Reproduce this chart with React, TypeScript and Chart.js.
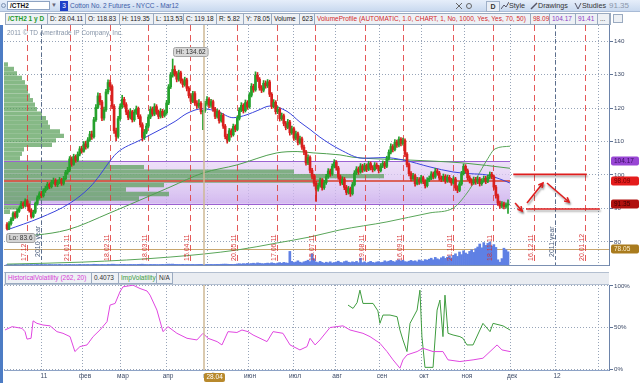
import React, { useEffect, useRef } from "react";
import { Chart, registerables } from "chart.js";
Chart.register(...registerables);

// ---------------- DATA (daily bars, x = trading-day index) ----------------
const firstOpen = 85.2;
const closes = [
  84.0, 85.5, 86.8, 88.5, 87.6, 89.2, 90.2, 91.5, 90.8, 92.3,
  91.0, 89.4, 87.6, 88.9, 91.5, 93.2, 94.4, 93.8, 95.3, 96.0,
  97.2, 96.5, 97.8, 98.4, 97.1, 97.9, 98.6, 97.5, 98.9, 100.8,
  101.5, 104.8, 103.2, 105.5, 104.4, 106.2, 107.8, 107.1, 109.3, 108.4,
  110.5, 112.2, 111.4, 116.5, 120.2, 123.6, 121.8, 117.0, 119.5, 124.8,
  127.6, 126.4, 120.5, 113.2, 111.5, 116.8, 120.4, 122.6, 121.0, 118.8,
  117.2, 118.9, 116.5, 118.7, 119.8, 117.4, 115.0, 111.2, 112.8, 114.6,
  117.3, 119.6, 118.2, 120.4, 118.8, 117.5, 119.0, 117.8, 118.6, 121.5,
  126.3, 129.8, 131.5, 130.2, 128.6, 130.5, 128.1, 127.0, 128.4, 125.9,
  123.7, 122.0, 124.3, 121.5, 120.6, 121.4, 118.9, 119.18, 121.3, 122.6,
  120.8, 121.9, 119.7, 117.5, 118.9, 116.2, 117.8, 114.6, 111.5, 110.4,
  113.2, 112.0, 114.5, 113.6, 116.9, 119.4, 120.8, 119.2, 121.6, 120.3,
  123.8, 126.5, 125.4, 129.8, 128.6, 126.0, 125.3, 127.4, 126.6, 127.8,
  124.1, 120.5, 121.7, 118.9, 119.6, 116.8, 117.7, 115.4, 114.2, 115.8,
  112.6, 113.8, 111.0, 112.3, 109.7, 110.8, 108.3, 106.9, 103.6, 105.2,
  101.4, 99.6, 97.5, 95.8, 96.9, 98.4, 96.2, 97.7, 99.5, 101.2,
  100.3, 102.6, 103.8, 102.1, 99.4, 97.6, 98.8, 96.3, 94.8, 95.9,
  94.4, 97.1, 100.6, 101.8, 100.9, 102.7, 101.5, 102.8, 101.7, 103.4,
  102.2, 101.6, 103.0, 102.4, 101.3, 102.7, 103.5, 102.6, 104.9, 106.8,
  108.5, 107.6, 109.8, 108.9, 110.7, 109.4, 110.3, 106.2, 103.1, 100.4,
  98.9, 99.8, 97.4, 98.6, 97.9, 99.2, 98.1, 96.8, 98.5, 99.0,
  100.3, 99.4, 101.2, 100.6, 99.1, 98.7, 99.6, 98.2, 99.3, 98.5,
  97.6, 98.8, 96.1, 95.4, 97.3, 100.4, 102.6, 101.3, 99.2, 98.3,
  97.6, 98.7, 97.9, 98.8, 97.4, 98.2, 99.0, 98.1, 99.3, 100.2,
  99.5, 96.4, 93.8, 91.6, 90.7, 91.4, 90.6, 91.0, 91.35,
];
const highs = [
  85.8, 86.1, 87.3, 89.0, 89.1, 89.8, 90.9, 92.1, 92.0, 92.9,
  92.7, 91.4, 89.9, 89.5, 92.0, 93.8, 95.0, 95.1, 95.9, 96.7,
  97.8, 97.7, 98.4, 99.1, 98.9, 98.5, 99.3, 99.0, 99.6, 101.4,
  102.3, 105.5, 105.4, 106.2, 106.0, 106.9, 108.5, 108.6, 110.0, 110.1,
  111.2, 113.0, 113.1, 117.2, 121.0, 124.5, 124.4, 122.3, 120.3, 125.6,
  128.4, 128.3, 126.9, 121.0, 114.0, 117.5, 121.2, 123.8, 123.2, 121.6,
  119.4, 119.8, 119.3, 119.5, 120.6, 120.3, 118.0, 115.6, 113.6, 115.4,
  118.0, 120.4, 120.3, 121.3, 121.0, 119.4, 119.8, 119.6, 119.4, 122.3,
  127.0, 130.6, 134.62, 132.6, 130.9, 131.3, 131.0, 128.7, 129.2, 128.9,
  126.4, 124.3, 125.0, 124.9, 122.2, 122.5, 121.9, 119.35, 122.0, 123.4,
  123.1, 122.6, 122.4, 120.2, 119.7, 119.4, 118.5, 118.3, 115.1, 112.2,
  113.9, 113.8, 115.2, 115.0, 117.6, 120.1, 121.6, 121.3, 122.4, 122.2,
  124.6, 127.3, 127.1, 130.8, 130.6, 129.1, 126.7, 128.2, 128.1, 128.5,
  128.3, 124.6, 122.5, 122.2, 120.4, 120.1, 118.5, 118.2, 116.0, 116.6,
  116.3, 114.6, 114.3, 113.1, 112.8, 111.6, 111.3, 108.9, 107.4, 106.0,
  105.7, 102.0, 100.2, 98.1, 97.6, 99.1, 98.9, 98.4, 100.2, 101.9,
  101.8, 103.3, 104.6, 104.3, 102.6, 100.0, 99.5, 99.3, 96.9, 96.6,
  96.4, 97.8, 101.3, 102.5, 102.4, 103.4, 103.2, 103.5, 103.3, 104.1,
  103.9, 102.8, 103.7, 103.6, 102.9, 103.4, 104.2, 104.0, 105.6, 107.5,
  109.3, 109.1, 110.6, 110.4, 111.4, 111.2, 111.0, 110.8, 106.7, 103.6,
  101.0, 100.5, 100.3, 99.3, 99.2, 99.9, 99.7, 98.6, 99.2, 99.7,
  101.0, 100.9, 102.0, 101.8, 101.1, 99.7, 100.3, 100.1, 100.0, 99.9,
  99.0, 99.5, 99.3, 96.8, 98.0, 101.1, 103.3, 103.1, 101.8, 99.8,
  98.9, 99.4, 99.3, 99.5, 99.3, 98.9, 99.7, 99.6, 100.0, 100.9,
  100.8, 100.0, 96.9, 94.3, 92.2, 92.1, 91.9, 91.7, 92.6,
];
const lows = [
  83.6, 83.7, 85.0, 86.4, 87.0, 87.2, 88.8, 89.9, 90.1, 90.4,
  90.5, 88.9, 87.1, 87.2, 88.5, 91.0, 92.8, 93.2, 93.4, 94.8,
  95.6, 95.9, 96.1, 97.3, 96.6, 96.5, 97.4, 96.9, 97.0, 98.5,
  100.2, 101.0, 102.6, 102.9, 103.8, 104.0, 105.7, 106.5, 106.8, 107.7,
  108.0, 110.0, 110.6, 111.0, 116.0, 119.8, 120.9, 116.2, 116.4, 119.0,
  124.2, 125.5, 119.8, 112.4, 110.2, 111.0, 116.3, 119.9, 120.2, 118.0,
  116.5, 116.7, 115.8, 116.0, 118.1, 116.8, 114.3, 110.2, 110.6, 112.3,
  114.1, 116.8, 117.6, 117.7, 118.1, 116.8, 117.0, 117.1, 117.3, 118.1,
  121.0, 125.8, 129.2, 129.5, 127.8, 128.0, 127.4, 126.2, 126.5, 125.1,
  123.0, 121.2, 121.6, 120.8, 119.9, 120.0, 118.2, 113.53, 118.7, 120.8,
  120.1, 120.2, 119.0, 116.8, 117.0, 115.5, 115.8, 113.9, 110.8, 109.5,
  110.0, 111.3, 111.6, 112.9, 113.2, 116.4, 118.9, 118.5, 118.8, 119.6,
  119.9, 123.3, 124.7, 125.0, 127.9, 125.3, 124.6, 124.8, 125.9, 126.1,
  123.4, 119.8, 120.0, 118.2, 118.3, 116.1, 116.3, 114.7, 113.5, 113.8,
  111.9, 112.1, 110.3, 110.5, 109.0, 109.2, 107.6, 106.1, 102.9, 103.1,
  100.6, 98.8, 96.7, 92.1, 95.2, 96.4, 95.5, 95.7, 97.2, 99.0,
  99.6, 99.9, 102.1, 101.4, 98.7, 96.9, 97.1, 95.6, 94.1, 94.3,
  93.6, 94.0, 96.7, 100.1, 100.2, 100.5, 100.8, 101.1, 101.0, 101.3,
  101.5, 100.9, 101.2, 101.8, 100.6, 100.9, 102.2, 101.9, 102.2, 104.4,
  106.3, 106.9, 107.2, 108.2, 108.4, 108.7, 108.9, 105.5, 102.4, 99.7,
  98.2, 98.4, 96.7, 97.0, 97.2, 97.5, 97.4, 96.1, 96.4, 98.0,
  98.6, 98.8, 99.0, 99.9, 98.4, 98.0, 98.2, 97.5, 97.8, 97.8,
  96.9, 97.2, 95.4, 94.7, 95.0, 96.9, 100.0, 100.6, 98.5, 97.6,
  96.9, 97.2, 97.2, 97.4, 96.7, 96.9, 97.8, 97.4, 97.7, 98.8,
  98.8, 95.7, 93.1, 90.9, 90.0, 90.2, 89.9, 90.1, 88.5,
];
const volumes = [
  210, 180, 260, 150, 300, 220, 170, 240, 310, 190, 260, 200, 280, 170, 230, 320, 190, 250, 210, 270,
  180, 300, 240, 200, 260, 190, 330, 220, 170, 280, 240, 310, 200, 260, 190, 230, 350, 210, 280, 240,
  300, 220, 260, 380, 340, 290, 250, 310, 270, 230, 360, 300, 420, 380, 260, 240, 300, 280, 330, 250,
  270, 310, 260, 290, 240, 330, 360, 410, 300, 280, 250, 320, 270, 300, 260, 240, 290, 330, 280, 390,
  440, 400, 460, 350, 320, 300, 280, 340, 260, 310, 290, 270, 300, 250, 280, 310, 330, 290, 260, 300,
  280, 320, 270, 300, 340, 310, 380, 420, 460, 400, 350, 330, 300, 360,
  520, 640, 480, 700, 560, 820, 610, 750, 900, 680, 1050, 880, 720, 640, 800, 950, 760, 1100, 870, 690,
  980, 1200, 850, 1300, 1050, 920,
  6800,
  1800, 1200, 1500, 2100, 1400, 1100, 1600, 1900, 2400, 1700,
  5600, 3100,
  1500, 1200, 1800, 1300, 900, 1400, 1100, 1600, 1000, 1250, 1500, 1900, 1300, 1100, 1700, 2000, 1400,
  1200, 1600, 1350, 1800, 1150,
  3400,
  1200, 1600, 1000, 1400, 1800, 1300, 1100, 1500, 1700, 1250, 1400, 2100, 1600, 1900, 2300, 1800, 1500,
  2200, 2600, 2000, 2400, 1700, 1500, 1900, 2300, 1800, 2100, 1600, 2500, 2200, 1900, 2700, 2400,
  2900, 3400, 2600, 3800, 3100, 2700, 3600, 4200, 3300, 3900, 4600, 3500,
  4800, 5600, 4300, 6500, 5200, 7100, 6000, 5400, 6800, 7600, 6300, 8200,
  9000, 10500, 8600, 11200, 9800, 10800, 11500, 9400,
  10200, 8800,
  2600, 1400, 3200,
  8400, 7600, 6600,
];

// Moving averages (sampled along the trading-day index)
const blueIdx = [0, 16.3, 31.2, 41.1, 46, 49.5, 54.4, 65.8, 75.7, 83.2, 89.1, 97, 104.4, 111.9, 118.8, 124.2, 130.2, 138.6, 145, 150, 154.9, 164.8, 176.2, 187.1, 196, 209.4, 220.8, 229.2, 237.6, 244, 249];
const blueVals = [83.6, 87.2, 91.6, 96.4, 100.0, 103.0, 106.6, 110.4, 113.5, 116.0, 118.4, 119.8, 118.9, 117.1, 118.0, 119.3, 120.6, 119.0, 115.8, 113.6, 111.3, 107.6, 105.0, 105.2, 104.5, 102.4, 100.9, 100.4, 100.0, 98.8, 97.6];
const green1Idx = [0, 29.7, 51, 65.8, 80.7, 97, 113.8, 133.6, 143.6, 151.5, 164.8, 171.3, 198, 225.7, 249];
const green1Vals = [81.2, 83.6, 88.7, 92.5, 96.4, 100.6, 103.0, 106.6, 107.0, 106.6, 106.0, 105.3, 104.5, 103.6, 102.0];
const green2Idx = [0, 37.6, 80.7, 113.8, 133.6, 150, 164.8, 188.1, 209.4, 220.8, 227.7, 232.7, 237.6, 241.6, 249];
const green2Vals = [73.4, 74.0, 75.5, 77.6, 79.7, 81.5, 83.6, 86.0, 88.7, 90.1, 94.6, 99.4, 104.5, 107.8, 108.6];

// Volume profile
const vpPrices = [136, 134.5, 133, 131.5, 130, 128.5, 127, 125.5, 124, 122.5, 121, 119.5, 118, 116.5, 115, 113.5, 112, 110.5, 109, 107.5, 106, 104.5, 103, 101.5, 100, 98.5, 97, 95.5, 94, 92.5, 91, 89.5, 88, 86.5];
const vpVolumes = [4, 10, 13, 18, 21, 23, 24, 26, 29, 31, 33, 38, 42, 44, 46, 56, 60, 52, 48, 20, 18, 16, 106, 140, 290, 380, 320, 160, 122, 165, 135, 27, 14, 6];
const vaHigh = 104.17;
const vaLow = 91.41;
const pocPrice = 98.09;
const lastPrice = 91.35;
const volRef = 78.05;
const profileEndIdx = 249;

// Axes
const priceTicks = [80, 90, 100, 110, 120, 130, 140];
const pctTicks = [0, 50, 100];
const monthTicks = [17.3, 37.6, 56.4, 78.7, 99.0, 119.3, 141.6, 162.4, 184.6, 205.4, 226.7, 249.0, 271.3, 292.6];
const monthLabels = ["11", "фев", "мар", "апр", "май", "июн", "июл", "авг", "сен", "окт", "ноя", "дек", "12", ""];
const expiryIdx = [9.9, 31.2, 51.0, 69.8, 90.6, 113.8, 133.6, 152.5, 177.2, 196.0, 220.8, 240.6, 260.9, 286.1];
const expiryLabels = ["17.12.10", "21.01.11", "18.02.11", "18.03.11", "15.04.11", "20.05.11", "17.06.11", "15.07.11", "19.08.11", "16.09.11", "21.10.11", "18.11.11", "16.12.11", "20.01.12"];
const yearIdx = [17.0, 271.3];
const yearLabels = ["2010 year", "2011 year"];
const cursorIdx = 97.5;
const cursorLabel = "28.04";
const hiIdx = 82;
const loIdx = 0;

// Drawings (trading-day index, price)
const drawSegs = [
  [250.6, 100.2, 287.0, 100.2, 0],
  [256.9, 89.85, 293.5, 89.85, 0],
  [251.5, 91.64, 255.0, 89.25, 1],
  [257.4, 91.64, 265.3, 97.61, 1],
  [267.3, 97.61, 278.2, 91.94, 1],
];

// Volatility study
const hvIdx = [-1, 2.5, 7.4, 8.9, 9.9, 11.9, 12.9, 14.8, 17.8, 21.3, 24.7, 27.7, 31.2, 33.6, 36.1, 39.6, 42.6, 46, 49.5, 51, 53.5, 55.9, 57.4, 62.4, 65.8, 69.3, 70.8, 74.2, 77.2, 79.7, 84.1, 89.1, 94, 97, 99.5, 104, 106.4, 109.4, 113.8, 116.3, 119.3, 121.8, 128.7, 131.7, 136.6, 140.1, 145, 148.5, 150, 152.5, 154.9, 159.9, 166.3, 169.8, 176.2, 179.7, 184.6, 188.1, 191.1, 194.5, 196, 198, 203, 205.9, 210.9, 215.8, 218.3, 224.2, 230.7, 235.6, 239.1, 242.6, 245, 249];
const hvVals = [47, 51, 49, 45, 36, 37, 58, 55, 53, 52, 45, 43, 39, 21, 27, 29, 39, 47, 57, 77, 79, 93, 99, 101, 97, 94, 89, 71, 45, 51, 43, 37, 35, 43, 37, 33, 29, 45, 44, 47, 45, 41, 33, 45, 43, 29, 23, 27, 37, 29, 35, 50, 52, 47, 43, 39, 31, 21, 11, 1, 11, 17, 21, 25, 21, 21, 11, 9, 11, 13, 21, 29, 23, 21];
const ivIdx = [168.8, 171.3, 173.3, 174.7, 176.2, 181.2, 183.6, 184.6, 186.1, 189.6, 193.1, 194.5, 196, 198, 199.5, 203, 204.4, 205.4, 206.9, 210.9, 212.9, 214.3, 215.8, 216.8, 218.3, 220.8, 224.2, 225.7, 227.7, 230.7, 235.6, 239.1, 240.6, 245.5, 249];
const ivVals = [77, 73, 80, 95, 79, 79, 70, 55, 65, 65, 63, 47, 35, 21, 55, 71, 95, 39, 2, 2, 71, 83, 39, 89, 43, 41, 39, 37, 29, 29, 55, 45, 55, 52, 47];

// ---------------- helpers ----------------
const FONT = '"Liberation Sans", Arial, Helvetica, sans-serif';
const f = (s: number, b = false) => `${b ? "bold " : ""}${s}px ${FONT}`;

function rrect(ctx: any, x: number, y: number, w: number, h: number, r: number) {
  ctx.beginPath();
  ctx.moveTo(x + r, y);
  ctx.arcTo(x + w, y, x + w, y + h, r);
  ctx.arcTo(x + w, y + h, x, y + h, r);
  ctx.arcTo(x, y + h, x, y, r);
  ctx.arcTo(x, y, x + w, y, r);
  ctx.closePath();
}
function hline(ctx: any, x1: number, x2: number, y: number, color: string, w: number) {
  const yy = w % 2 === 1 ? Math.round(y) + 0.5 : Math.round(y);
  ctx.save();
  ctx.strokeStyle = color;
  ctx.lineWidth = w;
  ctx.beginPath();
  ctx.moveTo(x1, yy);
  ctx.lineTo(x2, yy);
  ctx.stroke();
  ctx.restore();
}

const mainDeco = {
  id: "mainDeco",
  beforeDatasetsDraw(chart: any) {
    const { ctx, chartArea: a, scales } = chart;
    const xr = scales.x.getPixelForValue(profileEndIdx);
    const yt = scales.y.getPixelForValue(vaHigh);
    const yb = scales.y.getPixelForValue(vaLow);
    ctx.save();
    const g = ctx.createLinearGradient(0, yt, 0, yb);
    g.addColorStop(0, "rgba(232,214,246,0.75)");
    g.addColorStop(0.6, "rgba(214,190,240,0.75)");
    g.addColorStop(1, "rgba(200,168,236,0.8)");
    ctx.fillStyle = g;
    ctx.fillRect(a.left, yt, xr - a.left, yb - yt);
    ctx.restore();
  },
  afterDatasetDraw(chart: any, args: any) {
    if (args.index !== 0) return;
    const { ctx, chartArea: a, scales } = chart;
    const xs = scales.x, ys = scales.y;
    const xr = xs.getPixelForValue(profileEndIdx);
    hline(ctx, a.left, a.right, ys.getPixelForValue(volRef), "#c9a76f", 1);
    hline(ctx, a.left, xr, ys.getPixelForValue(vaHigh), "#9b62d2", 1);
    hline(ctx, a.left, xr, ys.getPixelForValue(vaLow), "#9b62d2", 1);
    hline(ctx, a.left, xr, ys.getPixelForValue(pocPrice), "rgba(218,88,74,0.9)", 2);
    ctx.save();
    ctx.lineWidth = 1;
    ctx.setLineDash([6, 4]);
    ctx.strokeStyle = "rgba(224,60,60,0.85)";
    expiryIdx.forEach((v) => {
      const x = Math.round(xs.getPixelForValue(v)) + 0.5;
      ctx.beginPath();
      ctx.moveTo(x, a.top);
      ctx.lineTo(x, a.bottom);
      ctx.stroke();
    });
    ctx.setLineDash([4, 3]);
    ctx.strokeStyle = "#5b6e8c";
    yearIdx.forEach((v) => {
      const x = Math.round(xs.getPixelForValue(v)) + 0.5;
      ctx.beginPath();
      ctx.moveTo(x, a.top);
      ctx.lineTo(x, a.bottom);
      ctx.stroke();
    });
    ctx.restore();
  },
  afterDatasetsDraw(chart: any) {
    const { ctx, chartArea: a, scales } = chart;
    const xs = scales.x, ys = scales.y;
    ctx.save();
    // rotated expiry labels
    ctx.font = f(7);
    ctx.textAlign = "left";
    ctx.textBaseline = "bottom";
    expiryIdx.forEach((v, k) => {
      const x = xs.getPixelForValue(v);
      ctx.save();
      ctx.translate(x + 0.5, a.bottom - 4);
      ctx.rotate(-Math.PI / 2);
      ctx.fillStyle = "rgba(214,48,48,0.92)";
      ctx.fillText(expiryLabels[k], 0, 0);
      ctx.restore();
    });
    yearIdx.forEach((v, k) => {
      const x = xs.getPixelForValue(v);
      ctx.save();
      ctx.translate(x + 0.5, a.bottom - 8);
      ctx.rotate(-Math.PI / 2);
      ctx.fillStyle = "#4a5d7c";
      ctx.fillText(yearLabels[k], 0, 0);
      ctx.restore();
    });
    // cursor line
    const cx = xs.getPixelForValue(cursorIdx);
    ctx.strokeStyle = "rgba(206,184,150,0.75)";
    ctx.lineWidth = 2;
    ctx.beginPath();
    ctx.moveTo(cx, a.top);
    ctx.lineTo(cx, a.bottom);
    ctx.stroke();
    // Hi / Lo boxes
    ctx.font = f(6.5);
    ctx.textBaseline = "middle";
    const hiTxt = "Hi: " + highs[hiIdx].toFixed(2);
    const hx = xs.getPixelForValue(hiIdx);
    const hy = ys.getPixelForValue(highs[hiIdx]);
    let w = ctx.measureText(hiTxt).width + 5;
    rrect(ctx, Math.round(hx) + 0.5, Math.round(hy - 12) + 0.5, w, 9, 2);
    ctx.fillStyle = "#d9d9d9";
    ctx.fill();
    ctx.strokeStyle = "#a5a5a5";
    ctx.lineWidth = 1;
    ctx.stroke();
    ctx.fillStyle = "#333";
    ctx.fillText(hiTxt, Math.round(hx) + 3, Math.round(hy - 12) + 5);
    const loTxt = "Lo: " + lows[loIdx].toFixed(1);
    const lx = xs.getPixelForValue(loIdx) - 1;
    const ly = ys.getPixelForValue(lows[loIdx]) + 3;
    w = ctx.measureText(loTxt).width + 5;
    rrect(ctx, Math.round(lx) + 0.5, Math.round(ly) + 0.5, w, 9, 2);
    ctx.fillStyle = "#d4d4d4";
    ctx.fill();
    ctx.strokeStyle = "#a0a0a0";
    ctx.stroke();
    ctx.fillStyle = "#333";
    ctx.fillText(loTxt, Math.round(lx) + 3, Math.round(ly) + 5);
    // drawings
    ctx.strokeStyle = "#e01e1e";
    ctx.lineWidth = 1.6;
    ctx.shadowColor = "rgba(0,0,0,0.35)";
    ctx.shadowBlur = 2;
    ctx.shadowOffsetX = 1;
    ctx.shadowOffsetY = 2;
    drawSegs.forEach((s) => {
      const x1 = xs.getPixelForValue(s[0]), y1 = ys.getPixelForValue(s[1]);
      const x2 = xs.getPixelForValue(s[2]), y2 = ys.getPixelForValue(s[3]);
      ctx.beginPath();
      ctx.moveTo(x1, y1);
      ctx.lineTo(x2, y2);
      ctx.stroke();
      if (s[4]) {
        const ang = Math.atan2(y2 - y1, x2 - x1);
        const L = 5;
        ctx.beginPath();
        ctx.moveTo(x2 - L * Math.cos(ang - 0.5), y2 - L * Math.sin(ang - 0.5));
        ctx.lineTo(x2, y2);
        ctx.lineTo(x2 - L * Math.cos(ang + 0.5), y2 - L * Math.sin(ang + 0.5));
        ctx.stroke();
      }
    });
    ctx.shadowColor = "transparent";
    // copyright
    ctx.font = f(6.5);
    ctx.fillStyle = "#8795a8";
    ctx.textBaseline = "middle";
    ctx.fillText("2011 © TD Ameritrade IP Company, Inc.", a.left + 3, a.top + 8);
    ctx.restore();
  },
  afterDraw(chart: any) {
    const { ctx, chartArea: a, scales } = chart;
    const ys = scales.y;
    ctx.save();
    ctx.font = f(6.2);
    ctx.fillStyle = "#3d4b68";
    ctx.textAlign = "left";
    ctx.textBaseline = "middle";
    priceTicks.forEach((v) => ctx.fillText(String(v), a.right + 5, ys.getPixelForValue(v)));
    const boxes = [
      [vaHigh, "#9846d4", "#3a0e62"],
      [pocPrice, "#e41c1c", "#6a0000"],
      [lastPrice, "#b0100e", "#3c0000"],
      [volRef, "#a97b1e", "#fff2d2"],
    ];
    ctx.font = f(6.5);
    boxes.forEach((b: any) => {
      const y = ys.getPixelForValue(b[0]);
      rrect(ctx, a.right + 2, Math.round(y) - 4.5, 28, 9, 2);
      ctx.fillStyle = b[1];
      ctx.fill();
      ctx.fillStyle = b[2];
      ctx.fillText(b[0].toFixed(2), a.right + 5, Math.round(y));
    });
    ctx.restore();
  },
};

const lowerDeco = {
  id: "lowerDeco",
  afterDatasetsDraw(chart: any) {
    const { ctx, chartArea: a, scales } = chart;
    const cx = scales.x.getPixelForValue(cursorIdx);
    ctx.save();
    ctx.strokeStyle = "rgba(206,184,150,0.75)";
    ctx.lineWidth = 2;
    ctx.beginPath();
    ctx.moveTo(cx, a.top - 1);
    ctx.lineTo(cx, a.bottom);
    ctx.stroke();
    ctx.restore();
  },
  afterDraw(chart: any) {
    const { ctx, chartArea: a, scales } = chart;
    const xs = scales.x, ys = scales.y;
    ctx.save();
    ctx.font = f(6.5);
    ctx.fillStyle = "#3d4b68";
    ctx.textAlign = "center";
    ctx.textBaseline = "middle";
    monthTicks.forEach((v, k) => {
      if (!monthLabels[k]) return;
      ctx.fillText(monthLabels[k], xs.getPixelForValue(v) + 2, a.bottom + 6.5);
    });
    ctx.textAlign = "left";
    ctx.font = f(6.2);
    pctTicks.forEach((v) => ctx.fillText(v + "%", a.right + 5, ys.getPixelForValue(v)));
    const cx = xs.getPixelForValue(cursorIdx);
    ctx.font = f(6.5);
    rrect(ctx, Math.round(cx), a.bottom + 3, 21, 9, 2);
    ctx.fillStyle = "#b8892c";
    ctx.fill();
    ctx.fillStyle = "#fff";
    ctx.fillText(cursorLabel, Math.round(cx) + 2.5, a.bottom + 7.5);
    ctx.restore();
  },
};

const GRID = "#97a4b8";

function MainChart() {
  const ref = useRef<HTMLCanvasElement>(null);
  useEffect(() => {
    const opens = closes.map((c, k) => (k === 0 ? firstOpen : closes[k - 1]));
    const colors = closes.map((c, k) => (c >= opens[k] ? "#25a12c" : "#d9201e"));
    const chart = new Chart(ref.current as HTMLCanvasElement, {
      type: "bar",
      data: {
        datasets: [
          {
            type: "bar",
            label: "VolumeProfile",
            indexAxis: "y",
            xAxisID: "xVP",
            yAxisID: "yVP",
            data: vpPrices.map((p, k) => ({ x: vpVolumes[k], y: p })),
            backgroundColor: "rgba(88,158,88,0.72)",
            grouped: false,
            barPercentage: 0.97,
            categoryPercentage: 1,
            order: 10,
          } as any,
          {
            type: "bar",
            label: "Volume",
            xAxisID: "x",
            yAxisID: "yVol",
            data: volumes.map((v, k) => ({ x: k, y: v })),
            backgroundColor: "#5f80e4",
            grouped: false,
            barPercentage: 1,
            categoryPercentage: 1,
            maxBarThickness: 2,
            order: 9,
          },
          {
            type: "line",
            label: "MA slow",
            xAxisID: "x",
            yAxisID: "y",
            data: green2Idx.map((v, k) => ({ x: v, y: green2Vals[k] })),
            borderColor: "#5aa65a",
            borderWidth: 1,
            pointRadius: 0,
            cubicInterpolationMode: "monotone",
            order: 8,
          },
          {
            type: "line",
            label: "MA mid",
            xAxisID: "x",
            yAxisID: "y",
            data: green1Idx.map((v, k) => ({ x: v, y: green1Vals[k] })),
            borderColor: "#4f9f4f",
            borderWidth: 1,
            pointRadius: 0,
            cubicInterpolationMode: "monotone",
            order: 7,
          },
          {
            type: "line",
            label: "MA fast",
            xAxisID: "x",
            yAxisID: "y",
            data: blueIdx.map((v, k) => ({ x: v, y: blueVals[k] })),
            borderColor: "#3a44dc",
            borderWidth: 1,
            pointRadius: 0,
            cubicInterpolationMode: "monotone",
            order: 6,
          },
          {
            type: "bar",
            label: "wick",
            xAxisID: "x",
            yAxisID: "y",
            data: closes.map((c, k) => ({ x: k, y: [lows[k], highs[k]] })),
            backgroundColor: colors,
            grouped: false,
            barPercentage: 1,
            categoryPercentage: 1,
            maxBarThickness: 1,
            order: 2,
          } as any,
          {
            type: "bar",
            label: "body",
            xAxisID: "x",
            yAxisID: "y",
            data: closes.map((c, k) => ({ x: k, y: [opens[k], c] })),
            backgroundColor: colors,
            grouped: false,
            barPercentage: 1,
            categoryPercentage: 1,
            maxBarThickness: 2,
            order: 1,
          } as any,
        ],
      },
      options: {
        responsive: false,
        animation: false,
        events: [],
        layout: { padding: { left: 4, right: 0, top: 0, bottom: 1 } },
        plugins: { legend: { display: false }, tooltip: { enabled: false } },
        scales: {
          x: {
            type: "linear",
            min: -1.5,
            max: 298,
            offset: false,
            afterBuildTicks: (s: any) => {
              s.ticks = monthTicks.map((v) => ({ value: v }));
            },
            ticks: { display: false },
            grid: { offset: false, drawTicks: false, color: GRID, lineWidth: 1 },
            border: { display: true, color: "#7b90b2", dash: [1, 2] },
          },
          y: {
            type: "linear",
            position: "right",
            min: 73.13,
            max: 144.78,
            afterBuildTicks: (s: any) => {
              s.ticks = priceTicks.map((v) => ({ value: v }));
            },
            afterFit: (s: any) => {
              s.width = 31;
            },
            ticks: { display: false },
            grid: { drawTicks: true, tickLength: 4, color: GRID, tickColor: "#5e7396", tickBorderDash: [] },
            border: { display: true, color: "#6d84aa", dash: [1, 2] },
          },
          yVol: { type: "linear", display: false, min: 0, max: 120000 },
          yVP: { type: "linear", display: false, min: 73.13, max: 144.78 },
          xVP: { type: "linear", axis: "x", display: false, min: 0, max: 605, offset: false },
        } as any,
      },
      plugins: [mainDeco],
    } as any);
    return () => chart.destroy();
  }, []);
  return (
    <canvas
      ref={ref}
      width={640}
      height={241}
      style={{ position: "absolute", left: 0, top: 25, width: 640, height: 241 }}
    />
  );
}

function LowerChart() {
  const ref = useRef<HTMLCanvasElement>(null);
  useEffect(() => {
    const chart = new Chart(ref.current as HTMLCanvasElement, {
      type: "line",
      data: {
        datasets: [
          {
            label: "HistoricalVolatility",
            data: hvIdx.map((v, k) => ({ x: v, y: hvVals[k] })),
            borderColor: "#e046e0",
            borderWidth: 1,
            pointRadius: 0,
            tension: 0,
          },
          {
            label: "ImpVolatility",
            data: ivIdx.map((v, k) => ({ x: v, y: ivVals[k] })),
            borderColor: "#3f9c3f",
            borderWidth: 1,
            pointRadius: 0,
            tension: 0,
          },
        ],
      },
      options: {
        responsive: false,
        animation: false,
        events: [],
        layout: { padding: { left: 4, right: 0, top: 10, bottom: 13 } },
        plugins: { legend: { display: false }, tooltip: { enabled: false } },
        scales: {
          x: {
            type: "linear",
            min: -1.5,
            max: 298,
            afterBuildTicks: (s: any) => {
              s.ticks = monthTicks.map((v) => ({ value: v }));
            },
            ticks: { display: false },
            grid: { drawTicks: false, color: GRID },
            border: { display: true, color: "#8ea3c6", dash: [1, 2] },
          },
          y: {
            type: "linear",
            position: "right",
            min: -1.2,
            max: 101.2,
            afterBuildTicks: (s: any) => {
              s.ticks = pctTicks.map((v) => ({ value: v }));
            },
            afterFit: (s: any) => {
              s.width = 31;
            },
            ticks: { display: false },
            grid: { drawTicks: true, tickLength: 4, color: GRID, tickColor: "#5e7396", tickBorderDash: [] },
            border: { display: true, color: "#6d84aa", dash: [1, 2] },
          },
        } as any,
      },
      plugins: [lowerDeco],
    } as any);
    return () => chart.destroy();
  }, []);
  return (
    <canvas
      ref={ref}
      width={640}
      height={108}
      style={{ position: "absolute", left: 0, top: 275, width: 640, height: 108 }}
    />
  );
}

const headerItems: [string, number, string, boolean][] = [
  ["/CTH2 1 y D", 42, "#1f9a2a", true],
  ["D: 28.04.11", 38, "#222", false],
  ["O: 118.83", 34, "#222", false],
  ["H: 119.35", 34, "#222", false],
  ["L: 113.53", 30, "#222", false],
  ["C: 119.18", 33, "#222", false],
  ["R: 5.82", 27, "#222", false],
  ["Y: 78.05", 28, "#222", false],
  ["Volume", 28, "#222", false],
  ["623", 15, "#222", false],
  ["VolumeProfile (AUTOMATIC, 1.0, CHART, 1, No, 1000, Yes, Yes, 70, 50)", 216, "#d42a2a", false],
  ["98.09", 19, "#d42a2a", false],
  ["104.17", 26, "#8a3cc4", false],
  ["91.41", 22, "#8a3cc4", false],
  ["...", 12, "#333", false],
];
const studyItems: [string, number, string][] = [
  ["HistoricalVolatility (262, 20)", 86, "#d63cd6"],
  ["0.4073", 27, "#333"],
  ["ImpVolatility", 38, "#3a9a3a"],
  ["N/A", 16, "#333"],
];

function Strip({ items, left, top, width }: any) {
  return (
    <div
      style={{
        position: "absolute",
        left,
        top,
        width,
        height: 12,
        boxSizing: "border-box",
        border: "1px solid #9aaac0",
        background: "#eef1f5",
        display: "flex",
      }}
    >
      {items.map((it: any, k: number) => (
        <div
          key={k}
          style={{
            width: it[1],
            flex: "none",
            boxSizing: "border-box",
            borderRight: "1px solid #9aaac0",
            color: it[2],
            fontWeight: it[3] ? "bold" : "normal",
            fontSize: 6.5,
            lineHeight: "10px",
            paddingLeft: 2,
            whiteSpace: "nowrap",
            overflow: "hidden",
          }}
        >
          {it[0]}
        </div>
      ))}
    </div>
  );
}

function Icon({ left, children }: any) {
  return (
    <svg width={8} height={8} style={{ position: "absolute", left, top: 2 }} viewBox="0 0 8 8">
      {children}
    </svg>
  );
}

export default function App() {
  return (
    <div
      style={{
        position: "fixed",
        left: 0,
        top: 0,
        width: 640,
        height: 383,
        background: "#fff",
        overflow: "hidden",
        fontFamily: FONT,
      }}
    >
      {/* toolbar row */}
      <div
        style={{
          position: "absolute",
          left: 0,
          top: 0,
          width: 640,
          height: 12,
          background: "linear-gradient(#e6eefa,#c9d9ef)",
          borderBottom: "1px solid #a9bbd6",
          boxSizing: "border-box",
        }}
      >
        <div style={{ position: "absolute", left: 1, top: 3, width: 3, height: 3, borderRadius: 3, border: "1px solid #7f93b3" }} />
        <div
          style={{
            position: "absolute",
            left: 7,
            top: 1,
            width: 43,
            height: 9,
            background: "#fff",
            border: "1px solid #8ea3c2",
            boxSizing: "border-box",
            fontSize: 6.5,
            fontWeight: "bold",
            lineHeight: "7px",
            paddingLeft: 2,
            color: "#111",
          }}
        >
          /CTH2
        </div>
        <div style={{ position: "absolute", left: 51, top: 1, fontSize: 6, lineHeight: "9px", color: "#667" }}>▼</div>
        <div
          style={{
            position: "absolute",
            left: 60,
            top: 1,
            width: 8,
            height: 10,
            background: "#1d3fc8",
            color: "#fff",
            fontSize: 6.5,
            lineHeight: "10px",
            textAlign: "center",
          }}
        >
          3
        </div>
        <div style={{ position: "absolute", left: 70, top: 0, lineHeight: "11px", fontSize: 6.5, color: "#3c5ca8", whiteSpace: "nowrap" }}>
          Cotton No. 2 Futures - NYCC - Mar12
        </div>
        <Icon left={455}>
          <path d="M1 1 L7 7 M7 1 L1 7" stroke="#666" strokeWidth="1" />
        </Icon>
        <Icon left={465}>
          <circle cx="4" cy="4" r="2.5" stroke="#666" fill="none" />
        </Icon>
        <div
          style={{
            position: "absolute",
            left: 486,
            top: 1,
            width: 12,
            height: 9,
            border: "1px solid #9fb0c8",
            background: "#e9eef6",
            fontSize: 7,
            fontWeight: "bold",
            lineHeight: "9px",
            textAlign: "center",
            color: "#333",
          }}
        >
          D
        </div>
        <Icon left={501}>
          <polyline points="0,7 3,3 5,5 8,0" stroke="#556" fill="none" />
        </Icon>
        <div style={{ position: "absolute", left: 509, top: 0, fontSize: 7.2, lineHeight: "11px", color: "#333" }}>Style</div>
        <Icon left={530}>
          <path d="M1 7 L7 1" stroke="#556" strokeWidth="1.5" />
        </Icon>
        <div style={{ position: "absolute", left: 538, top: 0, fontSize: 7.2, lineHeight: "11px", color: "#333" }}>Drawings</div>
        <Icon left={574}>
          <path d="M1 1 L4 7 L7 1" stroke="#556" fill="none" />
        </Icon>
        <div style={{ position: "absolute", left: 582, top: 0, fontSize: 7.2, lineHeight: "11px", color: "#333" }}>Studies</div>
        <div style={{ position: "absolute", left: 609, top: 0, fontSize: 8, lineHeight: "11px", color: "#8b97aa" }}>91.35</div>
      </div>
      {/* header legend row */}
      <Strip items={headerItems} left={5} top={13} width={606} />
      <div style={{ position: "absolute", left: 613, top: 14, width: 10, height: 9, border: "1px solid #9aaac0", background: "#eef1f5", boxSizing: "border-box" }} />

      <LowerChart />
      <MainChart />

      {/* lower study header */}
      <div style={{ position: "absolute", left: 4, top: 272, width: 605, height: 13, background: "#e9ecf1", borderTop: "1px solid #b3bfd0", borderBottom: "1px solid #b3bfd0", boxSizing: "border-box" }} />
      <Strip items={studyItems.map((s) => [s[0], s[1], s[2], false])} left={5} top={272} width={168} />

      {/* window frame edge */}
      <div style={{ position: "absolute", left: 0, top: 25, width: 3, height: 358, background: "#4d7cc4" }} />
    </div>
  );
}
